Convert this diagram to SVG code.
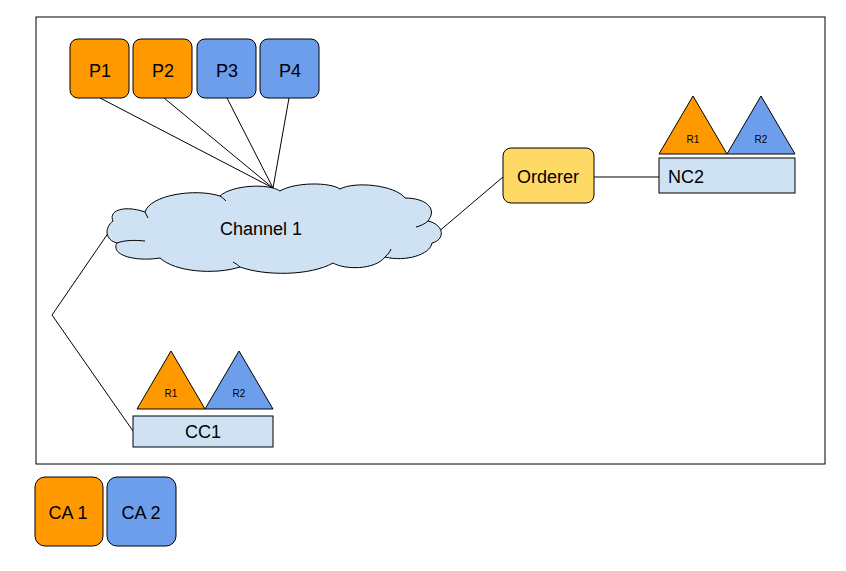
<svg xmlns="http://www.w3.org/2000/svg" width="846" height="571" viewBox="0 0 846 571">
<style>
text{font-family:"Liberation Sans",Arial,sans-serif;fill:#000;text-anchor:middle}
.t{font-size:18px}
.s{font-size:10px}
.o{fill:#ff9900;stroke:#000;stroke-width:1}
.b{fill:#6d9eeb;stroke:#000;stroke-width:1}
.lb{fill:#cfe2f3;stroke:#000;stroke-width:1}
.y{fill:#ffd966;stroke:#000;stroke-width:1}
.c{fill:none;stroke:#000;stroke-width:1}
</style>
<rect width="846" height="571" fill="#fff"/>
<rect id="frame" x="36" y="17" width="789" height="447" fill="none" stroke="#000" stroke-width="1"/>
<g id="connectors" class="c">
<line x1="100" y1="98" x2="273" y2="188"/>
<line x1="164" y1="98" x2="273" y2="188"/>
<line x1="227" y1="98" x2="273" y2="188"/>
<line x1="289" y1="98" x2="273" y2="188"/>
<polyline points="111,229 52,315 133,431"/>
<line x1="437" y1="233" x2="503" y2="177"/>
<line x1="594" y1="177" x2="659" y2="177"/>
</g>
<g id="P1"><rect class="o" x="70" y="39" width="59" height="59" rx="8"/><text class="t" x="100" y="77">P1</text></g>
<g id="P2"><rect class="o" x="133" y="39" width="59" height="59" rx="8"/><text class="t" x="163" y="77">P2</text></g>
<g id="P3"><rect class="b" x="197" y="39" width="59" height="59" rx="8"/><text class="t" x="227" y="77">P3</text></g>
<g id="P4"><rect class="b" x="260" y="39" width="59" height="59" rx="8"/><text class="t" x="290" y="77">P4</text></g>
<g id="channel1">
<path class="lb" d="M113,221 C108,210 125,205 145,212 C150,195 195,188 220,196 C232,185 268,183 280,191 C295,182 330,182 340,189 C355,181 395,185 405,198 C425,198 438,208 428,221 C445,225 445,240 432,243 C430,255 405,262 385,257 C375,270 345,270 333,263 C310,276 265,276 240,267 C215,275 175,272 160,258 C135,262 110,255 117,243 C105,240 104,228 113,221 Z"/>
<path class="c" d="M117,243 C125,240 135,240 145,241"/>
<path class="c" d="M145,212 C146,214 147,216 148,218"/>
<path class="c" d="M220,196 C223,198 225,200 226,201"/>
<path class="c" d="M428,221 C425,224 420,226 416,227"/>
<path class="c" d="M385,257 C388,254 390,252 391,249"/>
<path class="c" d="M240,267 C238,265 235,263 233,262"/>
<text class="t" x="261" y="235">Channel 1</text>
</g>
<g id="orderer"><rect class="y" x="503" y="148" width="91" height="55" rx="8"/><text class="t" x="548" y="183">Orderer</text></g>
<g id="NC2">
<polygon class="o" points="659,154 727,154 693,96"/>
<polygon class="b" points="727,154 795,154 761,96"/>
<text class="s" x="693" y="143">R1</text>
<text class="s" x="761" y="143">R2</text>
<rect class="lb" x="659" y="158" width="136" height="35"/>
<text class="t" x="668" y="183" style="text-anchor:start">NC2</text>
</g>
<g id="CC1">
<polygon class="o" points="137,409 205,409 171,351"/>
<polygon class="b" points="205,409 273,409 239,351"/>
<text class="s" x="171" y="397">R1</text>
<text class="s" x="239" y="397">R2</text>
<rect class="lb" x="133" y="416" width="140" height="31"/>
<text class="t" x="203" y="438">CC1</text>
</g>
<g id="CA1"><rect class="o" x="35" y="477" width="68" height="69" rx="10"/><text class="t" x="68" y="519">CA 1</text></g>
<g id="CA2"><rect class="b" x="107" y="477" width="69" height="69" rx="10"/><text class="t" x="141" y="519">CA 2</text></g>
</svg>
